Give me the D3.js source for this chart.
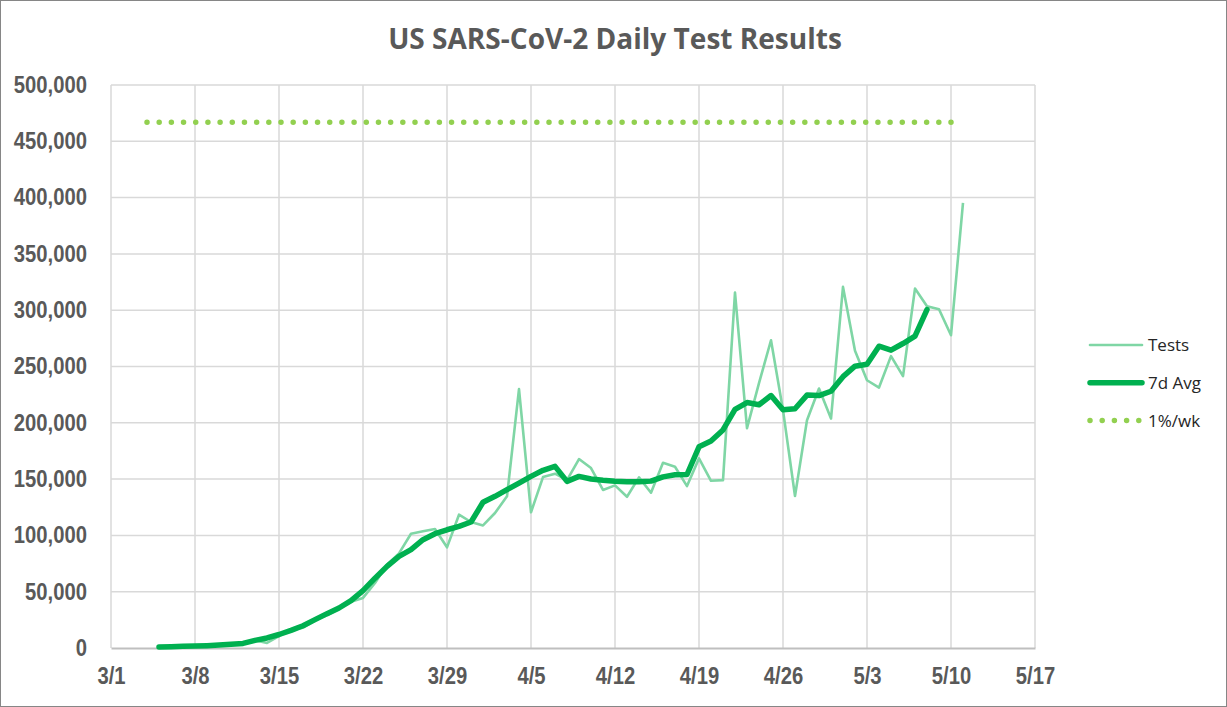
<!DOCTYPE html>
<html>
<head>
<meta charset="utf-8">
<script src="https://cdn.jsdelivr.net/npm/d3@7"></script>
<style>
  html, body { margin: 0; padding: 0; background: #fff; }
  svg { display: block; }
</style>
</head>
<body>
<div id="chart"></div>
<script>
// Data
const testDates = [
  "3/5","3/6","3/7","3/8","3/9","3/10","3/11","3/12","3/13","3/14","3/15","3/16","3/17",
  "3/18","3/19","3/20","3/21","3/22","3/23","3/24","3/25","3/26","3/27","3/28","3/29","3/30","3/31",
  "4/1","4/2","4/3","4/4","4/5","4/6","4/7","4/8","4/9","4/10","4/11","4/12","4/13","4/14",
  "4/15","4/16","4/17","4/18","4/19","4/20","4/21","4/22","4/23","4/24","4/25","4/26","4/27","4/28",
  "4/29","4/30","5/1","5/2","5/3","5/4","5/5","5/6","5/7","5/8","5/9","5/10","5/11"
];
const tests = [
  1000, 1200, 1400, 1600, 2000, 2600, 3300, 4200, 7000, 4500, 10500, 16500, 18000, 24500,
  29000, 35000, 41000, 44500, 57700, 74000, 84000, 101500, 103600, 105700, 89400, 118400, 111900, 108900,
  119900, 134700, 230000, 120500, 151800, 154800, 149000, 167800, 159800, 140400, 144400, 134300, 151500, 137900,
  164500, 161000, 143800, 168400, 148500, 149100, 315700, 195200, 235200, 273300, 211200, 135000, 202300, 230400,
  203800, 320700, 263900, 237800, 231300, 259200, 241400, 319200, 303600, 300900, 277800, 395300
];
// 7 day average stops at 5/8
const avg7 = [
  900, 1200, 1500, 1700, 2100, 2700, 3300, 4100, 6800, 8900, 12000, 15700, 19800, 25200,
  30500, 35500, 42000, 51000, 62000, 72500, 81400, 87300, 96200, 101500, 105000, 108000, 111900, 129400,
  134700, 140600, 146500, 152400, 157800, 161300, 148000, 152400, 150100, 148900, 148000, 147600, 147600, 148200,
  152000, 153800, 154100, 178700, 183800, 193700, 212000, 218000, 216000, 224200, 211500, 212500, 224600, 224200,
  228000, 241000, 250300, 252000, 268000, 264500, 270400, 276900, 300600
];
// 1% of population per week, as a daily rate
const benchDates = ["3/4", "5/10"];
const benchValue = 467000;

const xTicks = ["3/1","3/8","3/15","3/22","3/29","4/5","4/12","4/19","4/26","5/3","5/10","5/17"];
const yTicks = [0, 50000, 100000, 150000, 200000, 250000, 300000, 350000, 400000, 450000, 500000];

const W = 1227, H = 707;
const margin = {top: 85, right: 192, bottom: 59, left: 111};
const width = W - margin.left - margin.right,
      height = H - margin.top - margin.bottom;

const parse = s => d3.timeParse("%m/%d/%Y")(s + "/2020");

const svg = d3.select("#chart")
  .append("svg")
    .attr("width", W)
    .attr("height", H);

// outer border of the chart area
svg.append("rect")
  .attr("x", 0.5).attr("y", 0.5)
  .attr("width", W - 1).attr("height", H - 1)
  .attr("fill", "#fff")
  .attr("stroke", "#868686")
  .attr("stroke-width", 1);

const g = svg.append("g")
  .attr("transform", `translate(${margin.left}, ${margin.top})`);

const x = d3.scaleTime()
  .domain([parse(xTicks[0]), parse(xTicks[xTicks.length - 1])])
  .range([0, width]);
const y = d3.scaleLinear()
  .domain([0, 500000])
  .range([height, 0]);

const labelFont = "'Liberation Sans Narrow', 'Liberation Sans', Arial, sans-serif";

// squeeze bold labels to look like a narrow face
function narrow(sel) {
  sel.each(function() {
    const len = this.getComputedTextLength();
    d3.select(this)
      .attr("textLength", len * 0.88)
      .attr("lengthAdjust", "spacingAndGlyphs");
  });
}

// gridlines
g.append("g")
  .selectAll("line")
  .data(yTicks.filter(d => d > 0))
  .join("line")
    .attr("x1", 0).attr("x2", width)
    .attr("y1", d => y(d)).attr("y2", d => y(d))
    .attr("stroke", "#d9d9d9").attr("stroke-width", 1.5);
g.append("g")
  .selectAll("line")
  .data(xTicks)
  .join("line")
    .attr("x1", d => x(parse(d))).attr("x2", d => x(parse(d)))
    .attr("y1", 0).attr("y2", height)
    .attr("stroke", "#d9d9d9").attr("stroke-width", 1.5);

// Y axis
const yAxis = g.append("g")
  .call(d3.axisLeft(y).tickValues(yTicks).tickFormat(d3.format(",")).tickSize(0).tickPadding(24));
yAxis.select(".domain").remove();
yAxis.selectAll("text")
  .attr("fill", "#595959")
  .style("font-family", labelFont)
  .style("font-weight", "bold")
  .style("font-size", "23px")
  .call(narrow);

// X axis
const xAxis = g.append("g")
  .attr("transform", `translate(0, ${height})`)
  .call(d3.axisBottom(x).tickValues(xTicks.map(parse)).tickFormat(d3.timeFormat("%-m/%-d")).tickSize(0).tickPadding(20));
xAxis.select(".domain")
  .attr("stroke", "#bfbfbf").attr("stroke-width", 2);
xAxis.selectAll("text")
  .attr("fill", "#595959")
  .style("font-family", labelFont)
  .style("font-weight", "bold")
  .style("font-size", "23px")
  .call(narrow);

// 1%/wk benchmark (dotted)
const benchLine = g.append("line")
  .attr("x1", x(parse(benchDates[0]))).attr("x2", x(parse(benchDates[1])))
  .attr("y1", y(benchValue)).attr("y2", y(benchValue))
  .attr("stroke", "#92d050")
  .attr("stroke-width", 5.5)
  .attr("stroke-linecap", "round");
const benchLen = x(parse(benchDates[1])) - x(parse(benchDates[0]));
const gap = benchLen / Math.round(benchLen / 12.2);
benchLine.attr("stroke-dasharray", `0 ${gap}`);

const line = d3.line()
  .x(d => x(d.date))
  .y(d => y(d.value));

const testsData = testDates.map((s, i) => ({date: parse(s), value: tests[i]}));
const avgData = avg7.map((v, i) => ({date: parse(testDates[i]), value: v}));

// daily tests
g.append("path")
  .datum(testsData)
  .attr("fill", "none")
  .attr("stroke", "#7fd6a5")
  .attr("stroke-width", 2.6)
  .attr("stroke-linejoin", "round")
  .attr("d", line);

// 7 day average
g.append("path")
  .datum(avgData)
  .attr("fill", "none")
  .attr("stroke", "#00b050")
  .attr("stroke-width", 5.5)
  .attr("stroke-linejoin", "round")
  .attr("stroke-linecap", "round")
  .attr("d", line);

// title
const title = svg.append("text")
  .attr("x", 615)
  .attr("y", 49)
  .attr("text-anchor", "middle")
  .attr("fill", "#595959")
  .style("font-family", "'Open Sans', 'Noto Sans', sans-serif")
  .style("font-weight", "bold")
  .style("font-size", "25px")
  .text("US SARS-CoV-2 Daily Test Results");
// fit title to the width seen in the reference
const tw = title.node().getComputedTextLength();
title.style("font-size", (25 * 454 / tw) + "px");

// legend
const legendItems = [
  {label: "Tests", color: "#7fd6a5", width: 2.6, dotted: false},
  {label: "7d Avg", color: "#00b050", width: 5.5, dotted: false},
  {label: "1%/wk", color: "#92d050", width: 5.5, dotted: true}
];
const legend = svg.append("g")
  .attr("transform", "translate(1089, 345)");
legendItems.forEach((it, i) => {
  const row = legend.append("g").attr("transform", `translate(0, ${i * 37.8})`);
  row.append("line")
    .attr("x1", 1).attr("x2", it.dotted ? 50 : 53)
    .attr("y1", 0).attr("y2", 0)
    .attr("stroke", it.color)
    .attr("stroke-width", it.width)
    .attr("stroke-linecap", "round")
    .attr("stroke-dasharray", it.dotted ? "0 12.2" : null);
  row.append("text")
    .attr("x", 59)
    .attr("y", 0)
    .attr("dy", "0.36em")
    .attr("fill", "#262626")
    .style("font-family", "'Open Sans', 'Noto Sans', sans-serif")
    .style("font-size", "17px")
    .text(it.label);
});
</script>
</body>
</html>
